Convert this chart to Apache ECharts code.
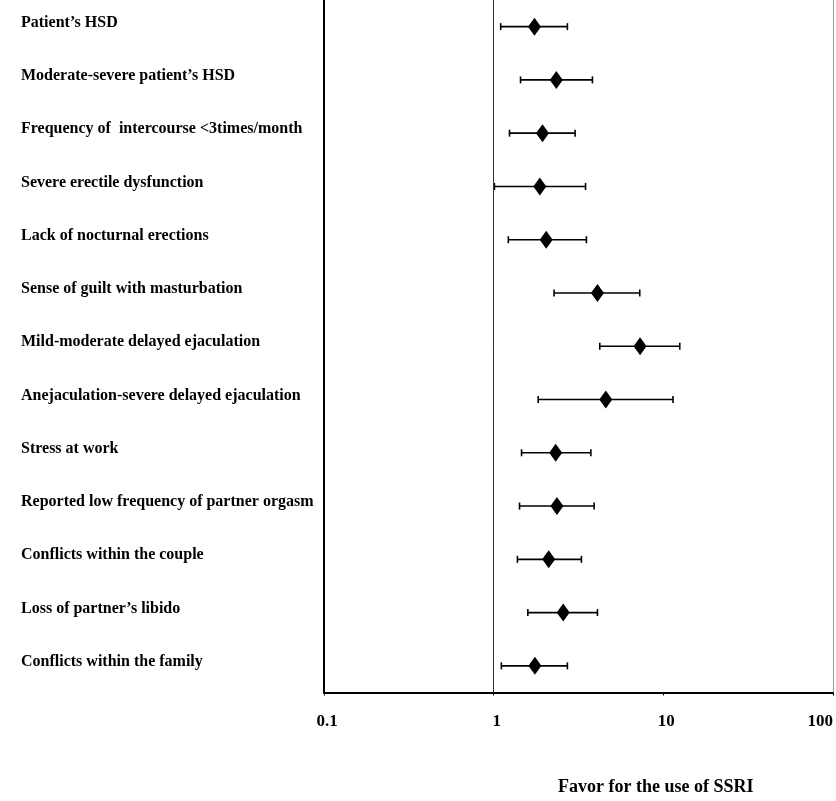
<!DOCTYPE html>
<html lang="en">
<head>
    <meta charset="UTF-8">
    <title>Forest plot</title>
    <script src="https://cdn.jsdelivr.net/npm/echarts@6/dist/echarts.min.js"></script>
    <style>
        * {
            margin: 0;
            padding: 0
        }

        html, body {
            width: 100%;
            height: 100%;
            background: #fff;
        }

        #main {
            width: 836px;
            height: 801px;
        }
    </style>
</head>
<body>
    <div id="main"></div>
</body>
<script type="text/javascript">
    // categories top to bottom
    var factors = [
        'Patient\u2019s HSD',
        'Moderate-severe patient\u2019s HSD',
        'Frequency of  intercourse <3times/month',
        'Severe erectile dysfunction',
        'Lack of nocturnal erections',
        'Sense of guilt with masturbation',
        'Mild-moderate delayed ejaculation',
        'Anejaculation-severe delayed ejaculation',
        'Stress at work',
        'Reported low frequency of partner orgasm',
        'Conflicts within the couple',
        'Loss of partner\u2019s libido',
        'Conflicts within the family'
    ];
    // odds ratio and 95% CI
    var oddsRatio = [1.74, 2.34, 1.94, 1.87, 2.04, 4.09, 7.29, 4.58, 2.32, 2.36, 2.11, 2.57, 1.75];
    var ciLow     = [1.10, 1.44, 1.24, 1.01, 1.22, 2.27, 4.22, 1.83, 1.46, 1.42, 1.38, 1.59, 1.11];
    var ciHigh    = [2.72, 3.82, 3.02, 3.48, 3.52, 7.26, 12.5, 11.4, 3.74, 3.91, 3.29, 4.09, 2.72];
    var xTicks = [0.1, 1, 10, 100];
    var xTitle = 'Favor for the use of SSRI';

    var serif = '"Liberation Serif", "Times New Roman", serif';

    var pointData = oddsRatio.map(function (v, i) { return [v, i]; });
    var ciData = ciLow.map(function (v, i) { return [v, ciHigh[i], i]; });

    var chart = echarts.init(document.getElementById('main'));

    chart.setOption({
        animation: false,
        title: {
            text: xTitle,
            left: 553,
            top: 773,
            textStyle: {
                fontFamily: serif,
                fontWeight: 'bold',
                fontSize: 18,
                color: '#000'
            }
        },
        grid: {
            left: 324,
            right: 1,
            top: -3.5,
            bottom: 108.5
        },
        xAxis: {
            type: 'log',
            logBase: 10,
            min: 0.1,
            max: 100,
            axisLine: {show: true, lineStyle: {color: '#000', width: 2}},
            axisTick: {show: true, length: 3, lineStyle: {color: '#000'}},
            splitLine: {show: false},
            minorTick: {show: false},
            axisLabel: {
                margin: 21,
                fontFamily: serif,
                fontWeight: 'bold',
                fontSize: 17,
                color: '#000',
                padding: [0, 0, 0, 6],
                alignMaxLabel: 'right',
                formatter: function (v) {
                    for (var i = 0; i < xTicks.length; i++) {
                        if (Math.abs(v - xTicks[i]) < 1e-9) return String(xTicks[i]);
                    }
                    return '';
                }
            }
        },
        yAxis: {
            type: 'category',
            data: factors,
            inverse: true,
            axisLine: {show: true, lineStyle: {color: '#000', width: 2}},
            axisTick: {show: false},
            splitLine: {show: false},
            axisLabel: {
                align: 'left',
                margin: 303,
                formatter: function (v) { return '{t|' + v + '}'; },
                rich: {
                    t: {
                        padding: [0, 0, 8, 0],
                        fontFamily: serif,
                        fontWeight: 'bold',
                        fontSize: 16,
                        color: '#000'
                    }
                }
            }
        },
        series: [
            {
                type: 'custom',
                data: ciData,
                encode: {x: [0, 1], y: 2},
                renderItem: function (params, api) {
                    var y = api.value(2);
                    var a = api.coord([api.value(0), y]);
                    var b = api.coord([api.value(1), y]);
                    var h = 3.5;
                    var st = {stroke: '#000', lineWidth: 1.6};
                    return {
                        type: 'group',
                        children: [
                            {type: 'line', shape: {x1: a[0], y1: a[1], x2: b[0], y2: b[1]}, style: st},
                            {type: 'line', shape: {x1: a[0], y1: a[1] - h, x2: a[0], y2: a[1] + h}, style: st},
                            {type: 'line', shape: {x1: b[0], y1: b[1] - h, x2: b[0], y2: b[1] + h}, style: st}
                        ]
                    };
                },
                z: 2
            },
            {
                type: 'scatter',
                data: pointData,
                symbol: 'diamond',
                symbolSize: [13, 18],
                itemStyle: {color: '#000', opacity: 1},
                z: 3,
                markLine: {
                    silent: true,
                    symbol: 'none',
                    label: {show: false},
                    data: [
                        {xAxis: 1, lineStyle: {color: '#333', width: 1, type: 'solid'}},
                        {xAxis: 100, lineStyle: {color: '#999', width: 1, type: 'solid'}}
                    ]
                }
            }
        ]
    });
</script>
</html>
